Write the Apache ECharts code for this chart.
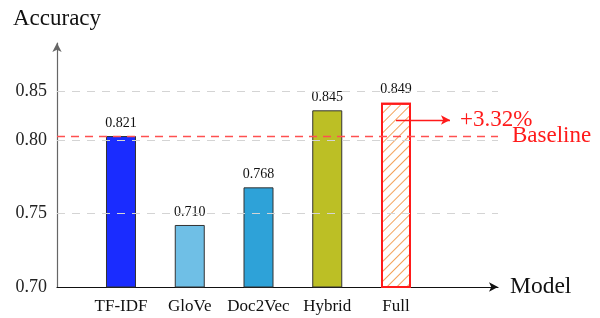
<!DOCTYPE html>
<html><head><meta charset="utf-8">
<script src="https://cdn.jsdelivr.net/npm/echarts@6/dist/echarts.min.js"></script>
<style>html,body{margin:0;padding:0;background:#fff}#c{width:600px;height:318px}</style>
</head><body><div id="c"></div>
<script>
const models = ['TF-IDF', 'GloVe', 'Doc2Vec', 'Hybrid', 'Full'];
const barHeights = [0.8027, 0.7422, 0.7678, 0.8202, 0.8254];
const barLabels = ['0.821', '0.710', '0.768', '0.845', '0.849'];
const barColors = ['#1a2cff', '#6fbfe6', '#2ea2d8', '#bcbf25', '#ffffff'];
const yTickValues = [0.70, 0.75, 0.80, 0.8335];
const yTickLabels = ['0.70', '0.75', '0.80', '0.85'];
const baseline = 0.8027;
const gainY = 0.8136;
const gainEndX = 4.785;
const gainLabel = '+3.32%';

const FONT = '"Liberation Serif", "DejaVu Serif", serif';
const chart = echarts.init(document.getElementById('c'), null, {renderer: 'canvas'});

const barData = barHeights.map((v, i) => {
  const item = {value: [i, v], label: {formatter: barLabels[i]}};
  if (models[i] === 'Full') {
    item.itemStyle = {
      color: '#ffffff', borderColor: '#ff1a1a', borderWidth: 2,
      decal: {symbol: 'rect', symbolSize: 1, dashArrayX: [1, 0], dashArrayY: [0.9, 5.5], rotation: -Math.PI / 4, color: '#f3a25a'}
    };
  } else {
    item.itemStyle = {color: barColors[i], borderColor: '#333', borderWidth: 1};
  }
  return item;
});

const gridLines = yTickValues.slice(1).map(v => ({yAxis: v}));

chart.setOption({
  animation: false,
  backgroundColor: '#fff',
  grid: {left: 57, right: 102, top: 43, bottom: 31, containLabel: false},
  xAxis: {
    type: 'value', min: -0.9309, max: 5.4836,
    name: 'Model', nameLocation: 'end', nameGap: 12,
    nameTextStyle: {fontFamily: FONT, fontSize: 23.5, color: '#111', verticalAlign: 'middle'},
    axisLine: {show: true, onZero: false, symbol: ['none', 'arrow'], symbolSize: [7, 9], lineStyle: {color: '#111', width: 1.2}},
    axisTick: {show: false},
    splitLine: {show: false},
    axisLabel: {
      customValues: models.map((m, i) => i),
      formatter: v => models[Math.round(v)] || '',
      fontFamily: FONT, fontSize: 17, color: '#111', margin: 11
    }
  },
  yAxis: {
    type: 'value', min: 0.70, max: 0.866,
    name: 'Accuracy', nameLocation: 'end', nameGap: 13,
    nameTextStyle: {fontFamily: FONT, fontSize: 23, color: '#111', align: 'center'},
    axisLine: {show: true, onZero: false, symbol: ['none', 'arrow'], symbolSize: [7, 9], lineStyle: {color: '#666', width: 1.2}},
    axisTick: {show: false},
    splitLine: {show: false},
    axisLabel: {
      customValues: yTickValues,
      formatter: v => { const k = yTickValues.findIndex(t => Math.abs(t - v) < 1e-6); return k >= 0 ? yTickLabels[k] : ''; },
      fontFamily: FONT, fontSize: 18, color: '#222', margin: 10
    }
  },
  series: [
    {
      type: 'line', data: [], silent: true,
      markLine: {
        silent: true, symbol: ['none', 'none'], precision: 4,
        lineStyle: {color: '#d4d4d4', type: [8, 7], width: 1.2},
        label: {show: false},
        data: gridLines
      }
    },
    {
      type: 'bar', barWidth: 30, data: barData,
      label: {show: true, position: 'top', distance: 6, fontFamily: FONT, fontSize: 14, color: '#111'},
      z: 3,
      markLine: {
        silent: true, z: 5, symbol: ['none', 'none'], precision: 4,
        data: [
          {
            yAxis: baseline,
            lineStyle: {color: '#ff5050', type: [8, 6], width: 1.4},
            label: {show: true, position: 'end', formatter: 'Baseline', distance: 14, fontFamily: FONT, fontSize: 23, color: '#ff1a1a'}
          },
          [
            {coord: [4, gainY], symbol: 'none'},
            {coord: [gainEndX, gainY], symbol: 'arrow', symbolSize: [7, 9],
             lineStyle: {color: '#ff1a1a', type: 'solid', width: 1.3},
             label: {show: true, position: 'end', formatter: gainLabel, distance: 10, fontFamily: FONT, fontSize: 23, color: '#ff1a1a'}}
          ]
        ],
        lineStyle: {color: '#ff1a1a', type: 'solid', width: 1.3}
      }
    }
  ]
});
</script></body></html>
